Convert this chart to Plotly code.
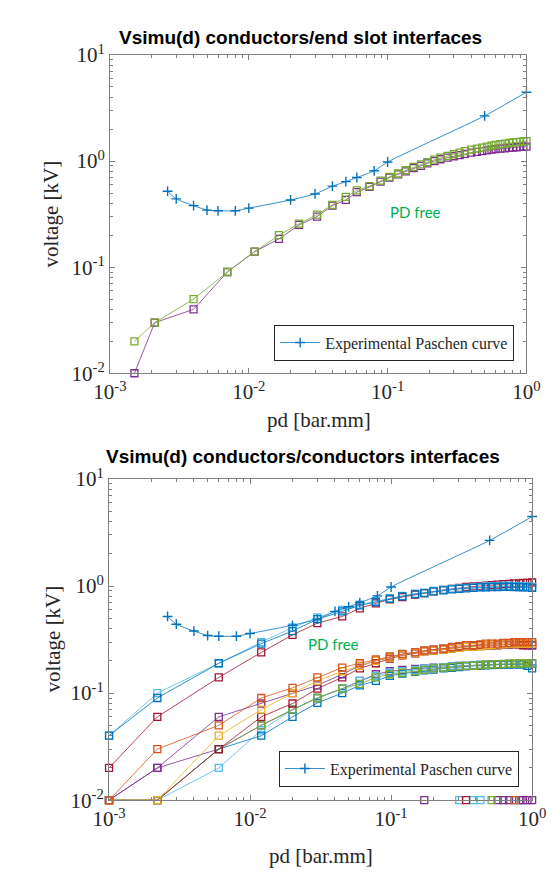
import plotly.graph_objects as go

# ---------------- data ----------------
# Experimental Paschen curve (both panels)
paschen_x = [0.0026, 0.003, 0.004, 0.005, 0.006, 0.008, 0.01, 0.02, 0.03, 0.04, 0.05, 0.06, 0.08, 0.1, 0.5, 1.0]
paschen_y = [0.52, 0.44, 0.38, 0.345, 0.34, 0.34, 0.36, 0.43, 0.49, 0.58, 0.64, 0.70, 0.81, 0.98, 2.67, 4.46]

# Top panel: conductors / end slot interfaces
top_x = [0.0015, 0.0021, 0.004, 0.007, 0.011, 0.0165, 0.023, 0.031, 0.04, 0.05, 0.06, 0.074, 0.089,
         0.103, 0.119, 0.135, 0.154, 0.174, 0.193, 0.217, 0.24, 0.27, 0.30, 0.33, 0.36, 0.40, 0.44,
         0.48, 0.52, 0.56, 0.60, 0.65, 0.70, 0.75, 0.80, 0.85, 0.90, 0.95, 1.0]
top_purple = [0.01, 0.03, 0.04, 0.09, 0.14, 0.185, 0.25, 0.30, 0.38, 0.43, 0.51, 0.57, 0.64, 0.70, 0.75,
              0.80, 0.86, 0.90, 0.95, 1.00, 1.04, 1.08, 1.11, 1.14, 1.17, 1.20, 1.22, 1.24, 1.26, 1.28,
              1.30, 1.31, 1.32, 1.33, 1.34, 1.35, 1.36, 1.365, 1.37]
top_green = [0.02, 0.03, 0.05, 0.09, 0.14, 0.2, 0.257, 0.313, 0.386, 0.46, 0.53, 0.58, 0.655, 0.711, 0.764,
             0.819, 0.88, 0.93, 0.978, 1.03, 1.08, 1.12, 1.16, 1.20, 1.24, 1.28, 1.31, 1.34, 1.37, 1.40,
             1.42, 1.44, 1.46, 1.48, 1.50, 1.51, 1.52, 1.53, 1.54]

# Bottom panel: conductors / conductors interfaces
bot_x = [0.001, 0.0022, 0.006, 0.012, 0.02, 0.03, 0.045, 0.06, 0.078, 0.098, 0.12, 0.148, 0.172, 0.2,
         0.235, 0.27, 0.304, 0.34, 0.383, 0.43, 0.47, 0.516, 0.57, 0.625, 0.686, 0.748, 0.81, 0.862, 0.927, 1.0]
hi_blue = [0.04, 0.09, 0.19, 0.29, 0.38, 0.49, 0.58, 0.66, 0.71, 0.76, 0.80, 0.84, 0.86, 0.89, 0.91,
           0.93, 0.94, 0.95, 0.96, 0.97, 0.975, 0.98, 0.98, 0.985, 0.985, 0.98, 0.98, 0.975, 0.97, 0.96]
hi_lblue = [0.04, 0.10, 0.19, 0.30, 0.41, 0.51, 0.60, 0.67, 0.72, 0.77, 0.81, 0.85, 0.87, 0.90, 0.92,
            0.94, 0.95, 0.96, 0.97, 0.98, 0.99, 1.0, 1.0, 1.01, 1.01, 1.0, 1.0, 1.0, 0.99, 0.98]
hi_red = [0.02, 0.06, 0.14, 0.24, 0.35, 0.45, 0.52, 0.62, 0.69, 0.75, 0.79, 0.83, 0.86, 0.89, 0.92,
          0.94, 0.96, 0.98, 0.99, 1.0, 1.01, 1.02, 1.03, 1.04, 1.05, 1.06, 1.06, 1.07, 1.07, 1.08]
mid_orange = [0.01, 0.03, 0.05, 0.09, 0.112, 0.14, 0.173, 0.19, 0.206, 0.22, 0.232, 0.24, 0.25, 0.255, 0.26,
              0.27, 0.275, 0.28, 0.28, 0.285, 0.29, 0.29, 0.29, 0.295, 0.295, 0.30, 0.30, 0.30, 0.30, 0.30]
mid_yellow = [0.01, 0.01, 0.04, 0.07, 0.10, 0.13, 0.16, 0.18, 0.20, 0.215, 0.228, 0.238, 0.245, 0.25, 0.255,
              0.26, 0.265, 0.27, 0.27, 0.275, 0.28, 0.28, 0.285, 0.285, 0.29, 0.29, 0.29, 0.29, 0.29, 0.29]
mid_purple = [0.01, 0.02, 0.06, 0.08, 0.10, 0.118, 0.15, 0.18, 0.20, 0.215, 0.23, 0.24, 0.248, 0.255, 0.26,
              0.265, 0.27, 0.27, 0.275, 0.28, 0.28, 0.28, 0.285, 0.285, 0.285, 0.29, 0.29, 0.29, 0.285, 0.28]
mid_red = [0.01, 0.01, 0.03, 0.06, 0.08, 0.11, 0.14, 0.17, 0.19, 0.21, 0.225, 0.235, 0.245, 0.25, 0.255,
           0.26, 0.265, 0.27, 0.275, 0.275, 0.28, 0.28, 0.28, 0.285, 0.285, 0.285, 0.285, 0.28, 0.28, 0.28]
low_green = [0.01, 0.01, 0.03, 0.05, 0.07, 0.09, 0.11, 0.122, 0.14, 0.15, 0.155, 0.16, 0.165, 0.17, 0.173,
             0.175, 0.178, 0.18, 0.18, 0.182, 0.184, 0.185, 0.186, 0.187, 0.188, 0.188, 0.189, 0.19, 0.19, 0.19]
low_blue = [0.01, 0.01, 0.03, 0.04, 0.06, 0.081, 0.10, 0.118, 0.13, 0.145, 0.152, 0.158, 0.163, 0.166, 0.17,
            0.172, 0.175, 0.178, 0.18, 0.18, 0.182, 0.183, 0.184, 0.185, 0.185, 0.186, 0.186, 0.186, 0.18, 0.17]
low_lblue = [None, 0.01, 0.02, 0.045, 0.07, 0.09, 0.11, 0.13, 0.145, 0.155, 0.16, 0.165, 0.17, 0.172, 0.175,
             0.178, 0.18, 0.18, 0.182, 0.183, 0.184, 0.185, 0.185, 0.186, 0.186, 0.187, 0.187, 0.188, 0.188, 0.188]
low_purple = [0.01, 0.02, 0.03, 0.05, 0.07, 0.09, 0.11, 0.13, 0.15, 0.16, 0.165, 0.168, 0.17, 0.173, 0.175,
              0.178, 0.18, 0.18, 0.182, 0.183, 0.184, 0.185, 0.186, 0.186, 0.187, 0.187, 0.188, 0.188, 0.188, 0.188]
# isolated points lying on the 10^-2 floor
floor_purple_x = [0.172, 0.57, 0.625, 0.686, 0.81, 0.862, 0.927, 1.0]
floor_purple_y = [0.01, 0.01, 0.01, 0.01, 0.01, 0.01, 0.01, 0.01]
floor_lblue_x = [0.304, 0.383, 0.43, 0.748]
floor_lblue_y = [0.01, 0.01, 0.01, 0.01]
floor_red_x = [0.34]
floor_red_y = [0.01]
floor_green_x = [0.516]
floor_green_y = [0.01]
floor_orange_x = [0.748]
floor_orange_y = [0.01]

x_tick_vals = [0.001, 0.01, 0.1, 1]
x_tick_text = ["10<sup>-3</sup>", "10<sup>-2</sup>", "10<sup>-1</sup>", "10<sup>0</sup>"]
y_tick_vals = [0.01, 0.1, 1, 10]
y_tick_text = ["10<sup>-2</sup>", "10<sup>-1</sup>", "10<sup>0</sup>", "10<sup>1</sup>"]

# ---------------- style ----------------
BLUE, ORANGE, YELLOW, PURPLE = "#0072BD", "#D95319", "#EDB120", "#7E2F8E"
GREEN, LBLUE, RED = "#77AC30", "#4DBEEE", "#A2142F"
W, H = 557, 875
SERIF = "Liberation Serif, Times New Roman, serif"

fig = go.Figure()


def sq(x, y, color, xa, ya, mode="lines+markers"):
    fig.add_trace(go.Scatter(
        x=x, y=y, mode=mode, xaxis=xa, yaxis=ya, showlegend=False, cliponaxis=False,
        line=dict(color=color, width=0.8),
        marker=dict(symbol="square-open", size=7, color=color, line=dict(width=1.3, color=color)),
        hoverinfo="skip"))


def paschen(xa, ya, legend):
    fig.add_trace(go.Scatter(
        x=paschen_x, y=paschen_y, mode="lines+markers", xaxis=xa, yaxis=ya, legend=legend,
        name="Experimental Paschen curve", cliponaxis=False,
        line=dict(color=BLUE, width=0.8, shape="spline", smoothing=0.6),
        marker=dict(symbol="cross-thin", size=7, color=BLUE, line=dict(width=1.4, color=BLUE))))


# top panel
sq(top_x, top_purple, PURPLE, "x", "y")
sq(top_x, top_green, GREEN, "x", "y")
paschen("x", "y", "legend")

# bottom panel
for ys, c in [(low_purple, PURPLE), (low_lblue, LBLUE), (low_blue, BLUE), (low_green, GREEN),
              (mid_red, RED), (mid_purple, PURPLE), (mid_yellow, YELLOW), (mid_orange, ORANGE),
              (hi_red, RED), (hi_lblue, LBLUE), (hi_blue, BLUE)]:
    sq(bot_x, ys, c, "x2", "y2")
for fx, fy, c in [(floor_purple_x, floor_purple_y, PURPLE), (floor_lblue_x, floor_lblue_y, LBLUE),
                  (floor_red_x, floor_red_y, RED), (floor_green_x, floor_green_y, GREEN),
                  (floor_orange_x, floor_orange_y, ORANGE)]:
    sq(fx, fy, c, "x2", "y2", mode="markers")
paschen("x2", "y2", "legend2")

AX = "#808080"
TXT = "#262626"
TICKFONT = dict(family=SERIF, size=21, color=TXT)
minor_x = [a * b for b in [0.001, 0.01, 0.1] for a in range(2, 10)]
minor_y = [a * b for b in [0.01, 0.1, 1] for a in range(2, 10)]


def axis(rng, domain, vals, text, minor_vals, anchor):
    return dict(type="log", range=rng, domain=domain, anchor=anchor, showline=True, linecolor=AX,
                linewidth=1, mirror="allticks", ticks="inside", ticklen=5, tickcolor=AX, tickwidth=1,
                tickmode="array", tickvals=vals, ticktext=text, tickfont=TICKFONT, showgrid=False,
                zeroline=False,
                minor=dict(ticks="inside", ticklen=3, tickcolor=AX, tickwidth=1, tickmode="array",
                           tickvals=minor_vals, showgrid=False))


fig.update_layout(
    width=W, height=H, margin=dict(l=0, r=0, t=0, b=0),
    paper_bgcolor="white", plot_bgcolor="white",
    xaxis=axis([-3, 0], [90 / W, 531 / W], x_tick_vals, x_tick_text, minor_x, "y"),
    yaxis=axis([-2, 1], [1 - 362 / H, 1 - 34 / H], y_tick_vals, y_tick_text, minor_y, "x"),
    xaxis2=axis([-3, 0], [89 / W, 537 / W], x_tick_vals, x_tick_text, minor_x, "y2"),
    yaxis2=axis([-2, 1], [1 - 802 / H, 1 - 471 / H], y_tick_vals, y_tick_text, minor_y, "x2"),
    legend=dict(x=518 / W, xanchor="right", y=1 - 349 / H, yanchor="bottom", bgcolor="white",
                bordercolor=TXT, borderwidth=1, font=dict(family=SERIF, size=16, color=TXT),
                itemwidth=40, tracegroupgap=0),
    legend2=dict(x=523 / W, xanchor="right", y=1 - 788 / H, yanchor="bottom", bgcolor="white",
                 bordercolor=TXT, borderwidth=1, font=dict(family=SERIF, size=16, color=TXT),
                 itemwidth=40, tracegroupgap=0),
)

ann = []
TITLEFONT = dict(family="Liberation Sans", size=19, color="black")
LABFONT = dict(family=SERIF, size=21, color=TXT)
ann.append(dict(text="<b>Vsimu(d) conductors/end slot interfaces</b>", x=292 / W, y=1 - 16 / H,
                font=TITLEFONT))
ann.append(dict(text="<b>Vsimu(d) conductors/conductors interfaces</b>", x=294 / W, y=1 - 448 / H,
                font=TITLEFONT))
ann.append(dict(text="voltage [kV]", x=28 / W, y=1 - 198 / H, textangle=-90, font=LABFONT))
ann.append(dict(text="voltage [kV]", x=30 / W, y=1 - 636 / H, textangle=-90, font=LABFONT))
ann.append(dict(text="pd [bar.mm]", x=311 / W, y=1 - 410 / H, font=LABFONT))
ann.append(dict(text="pd [bar.mm]", x=313 / W, y=1 - 860 / H, font=LABFONT))
ann.append(dict(text="PD free", x=414 / W, y=1 - 196 / H,
                font=dict(family="Lato", size=15, color="#00B050")))
ann.append(dict(text="PD free", x=327 / W, y=1 - 641 / H,
                font=dict(family="Lato", size=15, color="#00B050")))
for a in ann:
    a.update(xref="paper", yref="paper", xanchor="center", yanchor="middle", showarrow=False)
fig.update_layout(annotations=ann)

fig.write_html("out.html")
